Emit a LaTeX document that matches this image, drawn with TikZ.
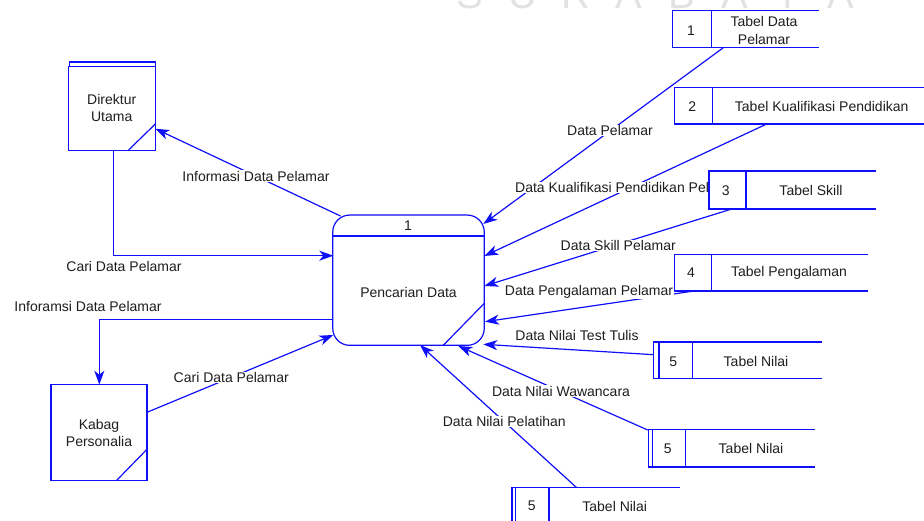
\documentclass[tikz,border=0pt]{standalone}
\usepackage{fontspec}
\setmainfont{Liberation Sans}
\usetikzlibrary{arrows.meta,calc}
\definecolor{dfdblue}{RGB}{15,15,250}
\definecolor{txt}{RGB}{30,30,30}
\definecolor{wm}{RGB}{226,226,226}
\tikzset{
  ln/.style={draw=dfdblue, line width=1.2pt},
  flow/.style={ln, -{Stealth[length=14pt,width=10pt,inset=4pt]}},
  lbl/.style={fill=white, inner sep=0.6pt, text=txt, font=\fontsize{14}{16}\selectfont},
  txtn/.style={text=txt, font=\fontsize{14}{17}\selectfont, align=center, inner sep=0pt},
  ent/.style={ln, rectangle, fill=white, inner sep=0pt, text=txt, font=\fontsize{14}{17}\selectfont, align=center},
  cell/.style={rectangle, inner sep=0pt, text=txt, font=\fontsize{14}{18}\selectfont, align=center},
  wmark/.style={text=wm, font=\fontsize{40}{40}\selectfont, anchor=base, inner sep=0pt}
}
\begin{document}
\begin{tikzpicture}[x=1pt,y=-1pt]
\useasboundingbox (0,0) rectangle (924,521);
\clip (0,0) rectangle (924,521);

% watermark
\foreach \ch [count=\i from 0] in {S,U,R,A,B,A,Y,A}
  \node[wmark] at (470+\i*53,9) {\ch};

% external entities
\node[ent, minimum width=87pt, minimum height=84pt] (dir) at (111.7,108.3) {Direktur\\Utama};
\draw[ln] (69.3,66) -- (69.3,62) -- (155.3,62) -- (155.3,66);
\draw[ln] (128.3,150.3) -- (155.3,124);

\node[ent, minimum width=96pt, minimum height=95.5pt] (kab) at (99,432.5) {Kabag\\Personalia};
\draw[ln] (116.7,480.3) -- (147,449.3);

% process
\node[ln, rectangle, rounded corners=17pt, fill=white, minimum width=151.5pt, minimum height=130.3pt] (proc) at (408.5,280.2) {};
\node[txtn] (pnum) at (408,225.5) {1};
\node[txtn] (pname) at (408.5,292) {Pencarian Data};
\draw[ln] (proc.west |- 0,236) -- (proc.east |- 0,236);
\draw[ln] (443.3,345.3) -- (484.3,303.3);

% endpoints
\coordinate (pTL) at (340.5,216);
\coordinate (dirArr) at (155.3,128.7);
\coordinate (dirOut) at (113.3,150.3);
\coordinate (cA) at (113.3,255.7);
\coordinate (pIn1) at (333.3,255.7);
\coordinate (pOut2) at (333.3,319.3);
\coordinate (cB) at (99.3,319.3);
\coordinate (kabArr) at (99.3,384.7);
\coordinate (kabOut) at (147,412.3);
\coordinate (pIn2) at (333.3,335);

\coordinate (t1) at (483.3,224);
\coordinate (t2) at (484.3,256);
\coordinate (t3) at (484.3,286);
\coordinate (t4) at (485,321.7);
\coordinate (t5) at (483.3,344.3);
\coordinate (t6) at (458.3,346);
\coordinate (t7) at (420,345);

\coordinate (s1o) at (723.3,47.7);
\coordinate (s2o) at (766.7,124);
\coordinate (s3o) at (731.7,209);
\coordinate (s4o) at (694,291);
\coordinate (s5o) at (653.7,354.7);
\coordinate (s6o) at (647.7,430);
\coordinate (s7o) at (576.7,487.7);

% flows
\draw[flow] (pTL) -- (dirArr);
\draw[flow] (dirOut) -- (cA) -- (pIn1);
\draw[flow] (pOut2) -- (cB) -- (kabArr);
\draw[flow] (kabOut) -- (pIn2);
\draw[flow] (s1o) -- (t1);
\draw[flow] (s2o) -- (t2);
\draw[flow] (s3o) -- (t3);
\draw[flow] (s4o) -- (t4);
\draw[flow] (s5o) -- (t5);
\draw[flow] (s6o) -- (t6);
\draw[flow] (s7o) -- (t7);

% labels
\node[lbl] (l1) at (256,176) {Informasi Data Pelamar};
\node[lbl] (l2) at (124,266.7) {Cari Data Pelamar};
\node[lbl] (l3) at (88,306.7) {Inforamsi Data Pelamar};
\node[lbl] (l4) at (231.3,377.3) {Cari Data Pelamar};
\node[lbl] (l5) at (610,130.7) {Data Pelamar};
\node[lbl, anchor=west] (l6) at (514.4,187.7) {Data Kualifikasi Pendidikan Pelamar};
\node[lbl] (l7) at (618.3,245.7) {Data Skill Pelamar};
\node[lbl] (l8) at (589,291.7) {Data Pengalaman Pelamar};
\node[lbl] (l9) at (577,335) {Data Nilai Test Tulis};
\node[lbl] (l10) at (561,391) {Data Nilai Wawancara};
\node[lbl] (l11) at (504.3,421.7) {Data Nilai Pelatihan};

% data stores
% store 1
\fill[white] (672.7,10.7) rectangle (819,47.7);
\draw[ln] (819,10.7) -- (672.7,10.7) -- (672.7,47.7) -- (819,47.7);
\draw[ln] (711.3,10.7) -- (711.3,47.7);
\node[cell] (s1n) at (691,30.5) {1};
\node[cell] (s1t) at (764,30) {Tabel Data\\Pelamar};
% store 2
\fill[white] (674.3,87.3) rectangle (924,124);
\draw[ln] (926,87.3) -- (674.3,87.3) -- (674.3,124) -- (926,124);
\draw[ln] (712.7,87.3) -- (712.7,124);
\node[cell] (s2n) at (692.3,106.3) {2};
\node[cell] (s2t) at (821.7,106.3) {Tabel Kualifikasi Pendidikan};
% store 3
\fill[white] (708.4,171) rectangle (876,209);
\draw[ln] (876,171) -- (709,171) -- (709,209) -- (876,209);
\draw[ln] (746,171) -- (746,209);
\node[cell] (s3n) at (725.7,190.7) {3};
\node[cell] (s3t) at (811,190.7) {Tabel Skill};
% store 4
\fill[white] (674.3,254.3) rectangle (867.7,291);
\draw[ln] (867.7,254.3) -- (674.3,254.3) -- (674.3,291) -- (867.7,291);
\draw[ln] (711.7,254.3) -- (711.7,291);
\node[cell] (s4n) at (691,272.7) {4};
\node[cell] (s4t) at (789,272.7) {Tabel Pengalaman};
% store 5a
\fill[white] (653.7,342) rectangle (822.3,378.7);
\draw[ln] (822.3,342) -- (653.7,342) -- (653.7,378.7) -- (822.3,378.7);
\draw[ln] (659,342) -- (659,378.7);
\draw[ln] (692.3,342) -- (692.3,378.7);
\node[cell] (s5n) at (673.3,361.3) {5};
\node[cell] (s5t) at (756,361.3) {Tabel Nilai};
% store 5b
\fill[white] (648.3,429.3) rectangle (815,467);
\draw[ln] (815,429.3) -- (648.3,429.3) -- (648.3,467) -- (815,467);
\draw[ln] (652.7,429.3) -- (652.7,467);
\draw[ln] (685.3,429.3) -- (685.3,467);
\node[cell] (s6n) at (667.7,448.3) {5};
\node[cell] (s6t) at (751,448.3) {Tabel Nilai};
% store 5c
\fill[white] (512,487.7) rectangle (680.3,526);
\draw[ln] (680.3,487.7) -- (512,487.7) -- (512,530);
\draw[ln] (515.7,487.7) -- (515.7,530);
\draw[ln] (549,487.7) -- (549,530);
\node[cell] (s7n) at (531.7,506) {5};
\node[cell] (s7t) at (614.7,506) {Tabel Nilai};
\end{tikzpicture}
\end{document}
